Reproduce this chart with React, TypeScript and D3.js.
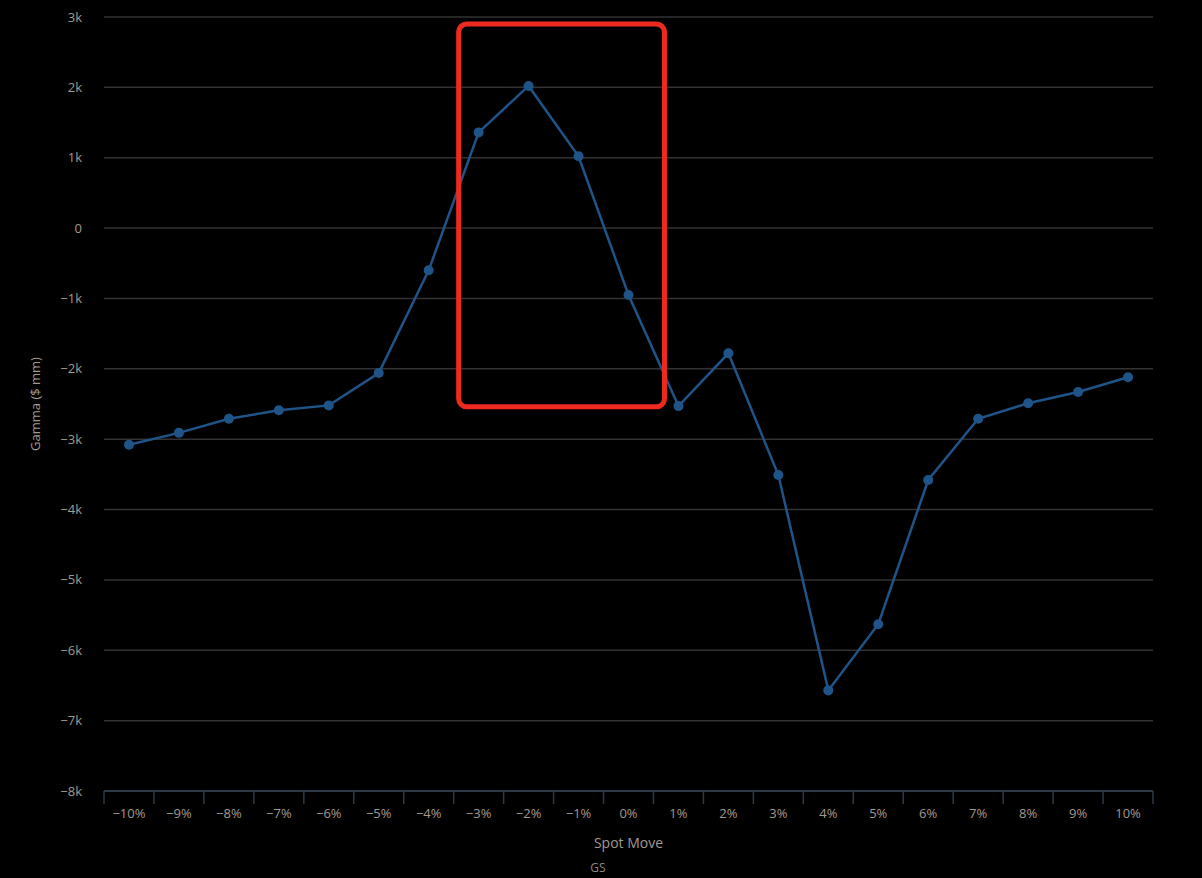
import React from "react";
import * as d3 from "d3";

const categories = ["-10%","-9%","-8%","-7%","-6%","-5%","-4%","-3%","-2%","-1%","0%","1%","2%","3%","4%","5%","6%","7%","8%","9%","10%"];
const gammaValues = [-3080,-2910,-2710,-2590,-2520,-2060,-600,1360,2020,1020,-950,-2530,-1780,-3510,-6570,-5630,-3580,-2710,-2490,-2330,-2120];
const yTicks = [3000,2000,1000,0,-1000,-2000,-3000,-4000,-5000,-6000,-7000,-8000];
const yTickLabels = ["3k","2k","1k","0","−1k","−2k","−3k","−4k","−5k","−6k","−7k","−8k"];
const xTickLabels = ["−10%","−9%","−8%","−7%","−6%","−5%","−4%","−3%","−2%","−1%","0%","1%","2%","3%","4%","5%","6%","7%","8%","9%","10%"];
const highlightFrom = "-3%";
const highlightTo = "0%";
const highlightTop = 2900;
const highlightBottom = -2540;

const W = 1202, H = 878;
const left = 104, right = 1153, top = 17, bottom = 791;

export default function App() {
  const x = d3.scaleBand<string>().domain(categories).range([left, right]).padding(0);
  const y = d3.scaleLinear().domain([-8000, 3000]).range([bottom, top]);
  const cx = (c: string) => (x(c) as number) + x.bandwidth() / 2;
  const line = d3.line<number>().x((_, i) => cx(categories[i])).y((d) => y(d));
  const font = "'Open Sans', 'DejaVu Sans', sans-serif";
  const textColor = "#a09a90";
  const hx0 = (x(highlightFrom) as number) + 5;
  const hx1 = (x(highlightTo) as number) + x.bandwidth() + 11;
  const bounds = categories.map((c) => x(c) as number).concat([right]);
  return (
    <svg width={W} height={H} style={{ position: "absolute", left: 0, top: 0, background: "#000" }}>
      <rect width={W} height={H} fill="#000" />
      {yTicks.slice(0, -1).map((t) => (
        <line key={t} x1={left} x2={right} y1={y(t)} y2={y(t)} stroke="#333" strokeWidth={1.5} />
      ))}
      {yTicks.map((t, i) => (
        <text key={"l" + t} x={82} y={y(t)} dy="0.35em" textAnchor="end" fill={textColor} fontSize={13} fontFamily={font}>
          {yTickLabels[i]}
        </text>
      ))}
      <line x1={left} x2={right} y1={bottom} y2={bottom} stroke="#2c3a48" strokeWidth={2} />
      {bounds.map((b, i) => (
        <line key={"t" + i} x1={b} x2={b} y1={bottom} y2={bottom + 13} stroke="#2c3a48" strokeWidth={1.5} />
      ))}
      {categories.map((c, i) => (
        <text key={"x" + c} x={cx(c)} y={bottom + 27} textAnchor="middle" fill={textColor} fontSize={13} fontFamily={font}>
          {xTickLabels[i]}
        </text>
      ))}
      <text x={(left + right) / 2} y={848} textAnchor="middle" fill={textColor} fontSize={14} fontFamily={font}>Spot Move</text>
      <text transform={`translate(40,${(top + bottom) / 2}) rotate(-90)`} textAnchor="middle" fill={textColor} fontSize={13} fontFamily={font}>Gamma ($ mm)</text>
      <text x={598} y={872} textAnchor="middle" fill="#8a8a8a" fontSize={12} fontFamily={font}>GS</text>
      <path d={line(gammaValues) || ""} fill="none" stroke="#1f5488" strokeWidth={2.5} />
      {gammaValues.map((v, i) => (
        <circle key={"p" + i} cx={cx(categories[i])} cy={y(v)} r={5} fill="#1f5488" />
      ))}
      <rect x={hx0} y={y(highlightTop)} width={hx1 - hx0} height={y(highlightBottom) - y(highlightTop)} rx={8} ry={8} fill="none" stroke="#ee2a1e" strokeWidth={5} />
    </svg>
  );
}
